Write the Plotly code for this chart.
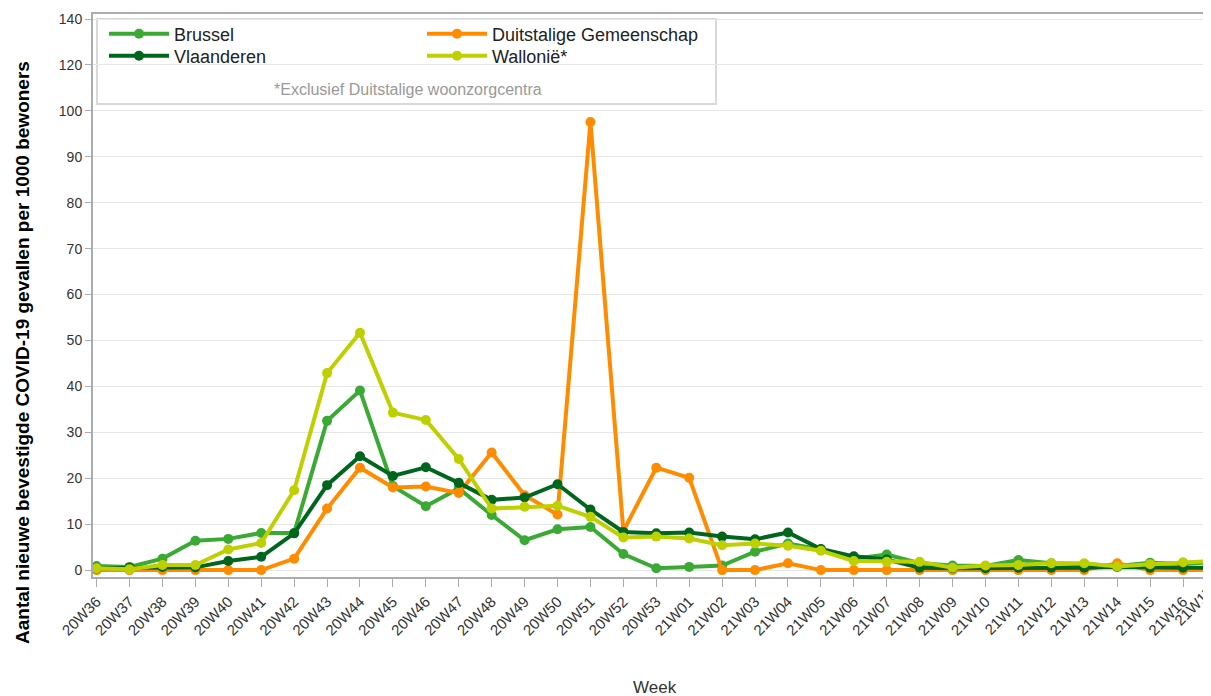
import plotly.graph_objects as go

weeks = ["20W%02d" % w for w in range(36, 54)] + ["21W%02d" % w for w in range(1, 18)]

brussel = [0.9, 0.7, 2.5, 6.4, 6.8, 8.1, 8.1, 32.5, 39.1, 18.3, 13.9, 17.8, 12.0, 6.5, 8.9, 9.4,
           3.5, 0.4, 0.7, 1.0, 4.0, 5.8, 4.5, 2.5, 3.4, 1.5, 1.0, 0.9, 2.2, 1.5, 1.3, 0.9,
           1.6, 1.4, 1.7]
duitstalig = [0, 0, 0, 0, 0, 0, 2.5, 13.4, 22.3, 18.0, 18.2, 16.8, 25.6, 16.3, 12.1, 97.6,
              8.5, 22.3, 20.1, 0, 0, 1.5, 0, 0, 0, 0, 0, 0, 0, 0, 0, 1.5,
              0, 0, 0]
vlaanderen = [0.4, 0.5, 0.7, 0.6, 2.0, 2.9, 8.0, 18.5, 24.8, 20.5, 22.4, 19.0, 15.3, 15.8, 18.7, 13.2,
              8.3, 8.0, 8.2, 7.3, 6.7, 8.2, 4.6, 3.0, 2.3, 0.5, 0.4, 0.4, 0.5, 0.5, 0.5, 0.7,
              0.5, 0.5, 0.5]
wallonie = [0.4, 0.2, 1.1, 1.1, 4.5, 5.9, 17.4, 42.9, 51.7, 34.3, 32.7, 24.2, 13.4, 13.8, 14.0, 11.6,
            7.1, 7.3, 6.9, 5.4, 5.8, 5.3, 4.2, 2.0, 1.8, 1.8, 0.5, 1.0, 1.1, 1.5, 1.5, 0.8,
            1.3, 1.7, 2.0]

# y axis is compressed above 100 (120 and 140 sit at half spacing)
y_tickvals = [0, 10, 20, 30, 40, 50, 60, 70, 80, 90, 100, 110, 120]
y_ticktext = ["0", "10", "20", "30", "40", "50", "60", "70", "80", "90", "100", "120", "140"]

# page has an 8px body margin, so the figure is a bit smaller than the window
W, H = 1203, 688
L, T, B = 85, 6, 119
PW, PH = W - L, H - T - B


def px(x):
    # page x -> paper x
    return (x - 8 - L) / PW


def py(y):
    # page y -> paper y
    return (H - B - (y - 8)) / PH


series = [
    ("Brussel", brussel, "#3aaa35", "legend", 104, 15.5),
    ("Duitstalige Gemeenschap", duitstalig, "#ff8c00", "legend3", 422, 15.5),
    ("Vlaanderen", vlaanderen, "#00661e", "legend2", 104, 37.5),
    ("Walloni\u00eb*", wallonie, "#bed000", "legend4", 422, 37.5),
]

fig = go.Figure()
legends = {}
for name, vals, col, leg, lx, ly in series:
    fig.add_trace(go.Scatter(
        x=weeks, y=vals, name=name, mode="lines+markers",
        line=dict(color=col, width=4),
        marker=dict(color=col, size=10),
        legend=leg
    ))
    legends[leg] = dict(
        x=px(lx), y=py(ly), xanchor="left", yanchor="top",
        bgcolor="rgba(0,0,0,0)", font=dict(size=18, color="#222"),
        itemwidth=60,
    )

axis_col = "#a9adb3"
grid_col = "#e6e6e6"

fig.update_layout(
    width=W, height=H,
    margin=dict(l=L, r=0, t=T, b=B),
    showlegend=True,
    plot_bgcolor="white",
    paper_bgcolor="white",
    font=dict(family="Arial, Liberation Sans, sans-serif", color="#333"),
    xaxis=dict(
        type="category",
        range=[-0.11, 33.85],
        showgrid=False,
        showline=True, linecolor=axis_col, linewidth=2, mirror=True,
        ticks="outside", ticklen=8, tickcolor=axis_col,
        tickangle=-45,
        tickfont=dict(size=15, color="#333"),
    ),
    yaxis=dict(
        range=[-1.5, 121.1],
        tickvals=y_tickvals, ticktext=y_ticktext,
        showgrid=True, gridcolor=grid_col, gridwidth=1,
        zeroline=False,
        showline=True, linecolor=axis_col, linewidth=2,
        ticks="outside", ticklen=6, tickcolor=axis_col,
        tickfont=dict(size=14, color="#333"),
    ),
    shapes=[dict(
        type="rect", xref="paper", yref="paper",
        x0=px(97), x1=px(716), y0=py(104), y1=py(19),
        line=dict(color="#d9d9d9", width=2), fillcolor="white", layer="below",
    )],
    annotations=[
        dict(text="*Exclusief Duitstalige woonzorgcentra", xref="paper", yref="paper",
             x=px(408), y=py(89), xanchor="center", yanchor="middle", showarrow=False,
             font=dict(size=16, color="#999")),
        dict(text="<b>Aantal nieuwe bevestigde COVID-19 gevallen per 1000 bewoners</b>",
             xref="paper", yref="paper", x=px(22), y=py(353), xanchor="center", yanchor="middle",
             textangle=-90, showarrow=False, font=dict(size=19, color="#000")),
        dict(text="Week", xref="paper", yref="paper", x=px(655), y=py(687),
             xanchor="center", yanchor="middle",
             showarrow=False, font=dict(size=17, color="#333")),
        # last week label, cut off by the right edge
        dict(text=weeks[-1], xref="paper", yref="paper", x=px(1220), y=py(580),
             xanchor="right", yanchor="top", textangle=-45, showarrow=False,
             font=dict(size=15, color="#333")),
    ],
    **legends,
)

fig.write_html("out.html")
